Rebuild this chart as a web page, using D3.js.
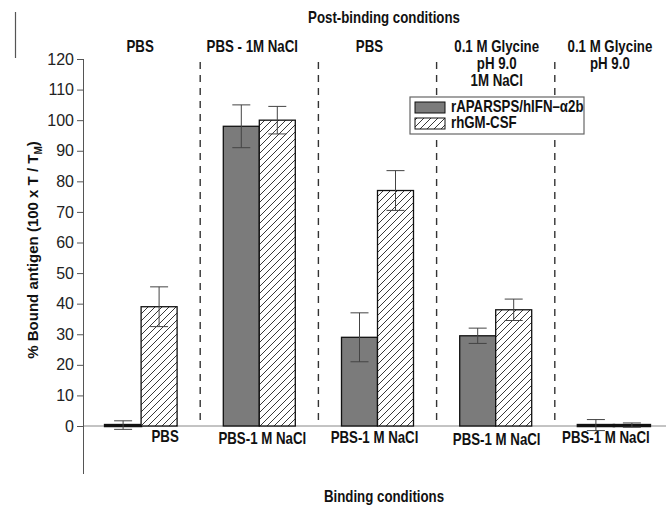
<!DOCTYPE html>
<html><head><meta charset="utf-8">
<script src="https://cdn.jsdelivr.net/npm/d3@7"></script>
<style>body{margin:0;background:#fff}svg{display:block}
text{font-family:"Liberation Sans",Arial,sans-serif}</style>
</head><body><svg id="c" width="666" height="509"></svg>
<script>
const groups = ["G1","G2","G3","G4","G5"];
const postLabels = [["PBS"],["PBS - 1M NaCl"],["PBS"],["0.1 M Glycine","pH 9.0","1M NaCl"],["0.1 M Glycine","pH 9.0"]];
const bindLabels = ["PBS","PBS-1 M NaCl","PBS-1 M NaCl","PBS-1 M NaCl","PBS-1 M NaCl"];
const series = ["rAPARSPS/hIFN\u2013\u03b12b","rhGM-CSF"];
const ifnMean = [0.3, 98, 29, 29.5, 0.3];
const ifnErr  = [1.4, 7, 8, 2.5, 1.8];
const gmMean  = [39, 100, 77, 38, 0.3];
const gmErr   = [6.5, 4.5, 6.5, 3.5, 0.7];
const yTicks = d3.range(0, 121, 10);

const svg = d3.select("#c");
const y = d3.scaleLinear().domain([0,120]).range([426,59]);
const x = d3.scaleBand().domain(groups).range([82,673]);
const xs = d3.scaleBand().domain([0,1]).range([0,72]);
const SX = 0.83, FS = 16;

function label(xp, yp, t, size, anchor){
  return svg.append("text").attr("transform",`translate(${xp},${yp}) scale(${SX},1)`)
    .attr("text-anchor",anchor||"middle").attr("font-size",size||FS).attr("font-weight","bold")
    .attr("fill","#111").text(t);
}

const defs = svg.append("defs");
const pat = defs.append("pattern").attr("id","hatch").attr("patternUnits","userSpaceOnUse")
  .attr("width",7).attr("height",7);
pat.append("rect").attr("width",7).attr("height",7).attr("fill","#fff");
pat.append("path").attr("d","M-1,1 l2,-2 M0,7 l7,-7 M6,8 l2,-2").attr("stroke","#222").attr("stroke-width",0.9);

// stray frame line
svg.append("line").attr("x1",15.5).attr("x2",15.5).attr("y1",12).attr("y2",58).attr("stroke","#555").attr("stroke-width",1.2);

// dashed separators
groups.slice(1).forEach(g=>{
  svg.append("line").attr("x1",x(g)).attr("x2",x(g)).attr("y1",62).attr("y2",y(0))
    .attr("stroke","#333").attr("stroke-width",1.4).attr("stroke-dasharray","7,6");
});

// baseline
svg.append("line").attr("x1",83).attr("x2",666).attr("y1",y(0)).attr("y2",y(0)).attr("stroke","#888").attr("stroke-width",1);

// y axis
const ax = svg.append("g").attr("transform","translate(83,0)")
  .call(d3.axisLeft(y).tickValues(yTicks).tickSize(6).tickPadding(3));
ax.select(".domain").remove();
ax.selectAll("line").attr("stroke","#555");
ax.selectAll("text").attr("font-size",16).attr("fill","#222");
svg.append("line").attr("x1",83.5).attr("x2",83.5).attr("y1",y(120)).attr("y2",474).attr("stroke","#555");

// bars
const data = groups.map((g,i)=>[
  {g, s:0, v:ifnMean[i], e:ifnErr[i]},
  {g, s:1, v:gmMean[i], e:gmErr[i]}
]).flat();
const off = x.bandwidth()/2 - 36;
const bw = xs.bandwidth();
svg.selectAll("rect.bar").data(data).join("rect").attr("class","bar")
  .attr("x",d=>x(d.g)+off+xs(d.s)).attr("width",bw)
  .attr("y",d=>y(d.v)).attr("height",d=>Math.max(y(0)-y(d.v),0))
  .attr("fill",d=>d.s===0?"#7b7b7b":"url(#hatch)")
  .attr("stroke","#111").attr("stroke-width",d=>d.v<1?2.5:1.3);

// error bars
const eb = svg.selectAll("g.eb").data(data).join("g").attr("class","eb")
  .attr("transform",d=>`translate(${x(d.g)+off+xs(d.s)+bw/2},0)`);
eb.append("line").attr("y1",d=>y(d.v-d.e)).attr("y2",d=>y(d.v+d.e)).attr("stroke","#444");
eb.append("line").attr("x1",-9).attr("x2",9).attr("y1",d=>y(d.v+d.e)).attr("y2",d=>y(d.v+d.e)).attr("stroke","#444");
eb.append("line").attr("x1",-9).attr("x2",9).attr("y1",d=>y(d.v-d.e)).attr("y2",d=>y(d.v-d.e)).attr("stroke","#444");

// titles
label(384, 23, "Post-binding conditions");
label(384, 502, "Binding conditions");

const topDx = [-1,-7,-8,1,-4];
postLabels.forEach((ls,i)=>{
  ls.forEach((l,j)=> label(x(groups[i])+x.bandwidth()/2+topDx[i], 52+j*17, l));
});
const botDx = [24,3,-3,1,-8];
const botDy = [0,2,1,3,1];
bindLabels.forEach((l,i)=> label(x(groups[i])+x.bandwidth()/2+botDx[i], 442+botDy[i], l));

// y label
const yl = svg.append("text").attr("transform","translate(38,250) rotate(-90)").attr("text-anchor","middle")
  .attr("font-size",15).attr("font-weight","bold").attr("fill","#111");
yl.append("tspan").text("% Bound antigen (100 x T / T");
yl.append("tspan").attr("font-size",10).attr("dy",4).text("M");
yl.append("tspan").attr("dy",-4).text(")");

// legend
const lg = svg.append("g").attr("transform","translate(410,97)");
lg.append("rect").attr("width",174).attr("height",37).attr("fill","#fff").attr("stroke","#666").attr("stroke-width",1.2);
series.forEach((s,i)=>{
  lg.append("rect").attr("x",5).attr("y",5+i*16).attr("width",30).attr("height",11)
    .attr("fill",i===0?"#7b7b7b":"url(#hatch)").attr("stroke","#111");
  lg.append("text").attr("transform",`translate(41,${15+i*16}) scale(${SX},1)`)
    .attr("font-size",FS).attr("font-weight","bold").attr("fill","#111").text(s);
});
</script></body></html>
